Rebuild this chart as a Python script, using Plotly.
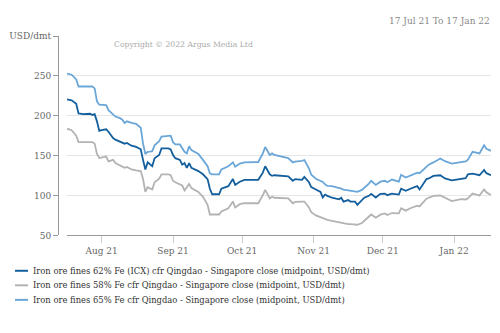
import plotly.graph_objects as go

W, H = 500, 333

dates = [
    "2021-07-17", "2021-07-19", "2021-07-21", "2021-07-22", "2021-07-24", "2021-07-27", "2021-07-28",
    "2021-07-29", "2021-07-30", "2021-07-31", "2021-08-01", "2021-08-03", "2021-08-04", "2021-08-06",
    "2021-08-07", "2021-08-09", "2021-08-10", "2021-08-11", "2021-08-12", "2021-08-14", "2021-08-16",
    "2021-08-18", "2021-08-19", "2021-08-20", "2021-08-21", "2021-08-22", "2021-08-23", "2021-08-24",
    "2021-08-26", "2021-08-27", "2021-08-30", "2021-08-31", "2021-09-01", "2021-09-02", "2021-09-04",
    "2021-09-05", "2021-09-06", "2021-09-07", "2021-09-08", "2021-09-09", "2021-09-12", "2021-09-14",
    "2021-09-16", "2021-09-17", "2021-09-18", "2021-09-21", "2021-09-22", "2021-09-25", "2021-09-26",
    "2021-09-27", "2021-09-28", "2021-09-30", "2021-10-02", "2021-10-08", "2021-10-10", "2021-10-11",
    "2021-10-13", "2021-10-14", "2021-10-15", "2021-10-21", "2021-10-23", "2021-10-24", "2021-10-27",
    "2021-10-28", "2021-10-30", "2021-10-31", "2021-11-02", "2021-11-04", "2021-11-05", "2021-11-06",
    "2021-11-07", "2021-11-09", "2021-11-12", "2021-11-13", "2021-11-14", "2021-11-16", "2021-11-17",
    "2021-11-19", "2021-11-20", "2021-11-22", "2021-11-23", "2021-11-25", "2021-11-26", "2021-11-28",
    "2021-11-30", "2021-12-02", "2021-12-03", "2021-12-05", "2021-12-08", "2021-12-09", "2021-12-11",
    "2021-12-13", "2021-12-16", "2021-12-17", "2021-12-20", "2021-12-21", "2021-12-23", "2021-12-26",
    "2021-12-28", "2021-12-31", "2022-01-04", "2022-01-06", "2022-01-07", "2022-01-09", "2022-01-12",
    "2022-01-14", "2022-01-15", "2022-01-17",
]

fe62 = [
    220.6, 219.4, 215, 203, 202, 202.5, 201,
    202, 193, 181, 182, 183, 180, 172,
    170, 167.7, 165.7, 165, 166, 162.5, 161,
    158, 144.7, 132.7, 141.5, 138.7, 136.7, 146.8,
    150.8, 159, 159, 157.7, 150.8, 146.8, 144.7,
    138.7, 140.7, 134.7, 140.7, 134.7, 130.6, 126.6,
    120.6, 108.5, 101.6, 101.6, 108.5, 111.7, 115.7,
    120.6, 113.3, 117.3, 119.7, 119.7, 128.7, 136.7,
    126.6, 124.6, 125.4, 124, 118.5, 120.6, 119.7,
    123.4, 116.6, 110.5, 107.6, 104.5, 97.6, 101.2,
    99.6, 97.2, 95.2, 97.2, 92.4, 94.3, 92.4,
    92.4, 88.3, 94.3, 97.2, 99.6, 102, 97.5,
    102, 102.4, 100.4, 102.4, 101.2, 108.5, 106,
    108.5, 111.7, 107.6, 120.6, 121.4, 124.6, 125.4,
    121.4, 119, 121.4, 121.8, 126.6, 127.5, 125.4,
    132, 128, 125.4,
]

fe58 = [
    183.8, 181.9, 175, 167, 167, 167, 167,
    165, 152, 147, 147.6, 148.8, 142.7, 144.7,
    140.7, 138, 136.7, 134.7, 135.9, 132.7, 131.4,
    130.6, 120.6, 104.5, 110.5, 108.5, 107.6, 116.6,
    121, 126.6, 126.6, 125.4, 118.5, 116.6, 114,
    112.5, 106.4, 110, 114.5, 109.3, 104.5, 98.4,
    88.3, 76.2, 76.2, 76.2, 80, 84, 88,
    92.4, 85.1, 89.1, 90.3, 90.3, 100.4, 107,
    96.4, 98.4, 97.2, 96.4, 90.3, 92, 92.4,
    92.4, 85, 79, 75, 72.5, 72, 70.5,
    69.5, 68.2, 66.5, 65, 64.5, 64.1, 64.1,
    63.5, 63.3, 65.5, 68.2, 73, 76.2, 72.2,
    76, 77.5, 75.5, 78, 77.5, 84, 81,
    84, 87.3, 86.3, 96, 97.2, 99.5, 100,
    97.5, 93, 95.4, 95, 96.5, 102.4, 100,
    107.6, 104, 100.5,
]

fe65 = [
    252.8, 251.5, 245.6, 236.7, 236.7, 236.7, 236.7,
    234.3, 218, 214, 214, 213.3, 207, 202,
    199, 197, 195, 191, 193, 191, 190,
    185, 165, 152, 154.8, 155, 155.6, 162.9,
    168, 174, 175, 175, 166.9, 164, 164,
    159, 154.8, 152.8, 161.7, 156.9, 152, 144.7,
    136.7, 127.8, 126.6, 126.6, 132.7, 136.7, 139,
    141.5, 136, 140, 141.5, 142, 152.8, 160.8,
    150.8, 152.8, 150.8, 147, 141.5, 142.5, 143.5,
    144.5, 134, 126, 121, 118, 117, 114,
    112, 111.7, 110, 108.5, 107.5, 106.4, 106,
    105, 104.5, 107, 109.3, 115, 118.5, 113.3,
    117.3, 118.5, 116.6, 120, 117.3, 126, 122.6,
    125.4, 128.7, 128, 136.7, 138.7, 141.5, 146.5,
    143, 140, 142, 142.7, 145, 154.8, 152.8,
    163, 158.5, 156,
]

series_names = [
    "Iron ore fines 62% Fe (ICX) cfr Qingdao - Singapore close (midpoint, USD/dmt)",
    "Iron ore fines 58% Fe cfr Qingdao - Singapore close (midpoint, USD/dmt)",
    "Iron ore fines 65% Fe cfr Qingdao - Singapore close (midpoint, USD/dmt)",
]
series_values = [fe62, fe58, fe65]
series_colors = ["#135f9e", "#b3b3b3", "#6aa7d8"]

y_tickvals = [50, 100, 150, 200, 250, 300]
y_ticktext = ["50", "100", "150", "200", "250", "USD/dmt"]

FONT = "DejaVu Serif"

fig = go.Figure()
# draw grey first, then light, then dark (dark on top)
for idx in [1, 2, 0]:
    fig.add_trace(go.Scatter(
        x=dates, y=series_values[idx], mode="lines", name=series_names[idx],
        line=dict(color=series_colors[idx], width=1.8), showlegend=False,
        hoverinfo="skip",
    ))


def px(x):
    return x / W


def py(y):
    return 1 - y / H


fig.update_layout(
    width=W, height=H,
    margin=dict(l=0, r=0, t=0, b=0),
    paper_bgcolor="white", plot_bgcolor="white",
    font=dict(family=FONT, size=9, color="#666"),
    xaxis=dict(
        domain=[px(67), px(491)],
        range=["2021-07-17", "2022-01-17"],
        type="date",
        tickformat="%b %y",
        dtick="M1",
        tick0="2021-08-01",
        showgrid=False,
        showline=True, linecolor="#999", linewidth=1,
        ticks="outside", ticklen=7, tickcolor="#ccc", tickwidth=1,
        tickfont=dict(family=FONT, size=9, color="#666"),
        zeroline=False,
        anchor="y",
    ),
    yaxis=dict(
        domain=[py(237.5), py(32)],
        range=[50, 300],
        tickvals=y_tickvals, ticktext=y_ticktext,
        showgrid=True, gridcolor="#e6e6e6", gridwidth=1,
        showline=True, linecolor="#999", linewidth=1,
        ticks="outside", ticklen=5, tickcolor="#999",
        tickfont=dict(family=FONT, size=9, color="#666"),
        zeroline=False,
        anchor="free", position=px(58),
    ),
)

annotations = [
    dict(text="17 Jul 21 To 17 Jan 22", x=px(492), y=py(16), xanchor="right", yanchor="middle",
         font=dict(family=FONT, size=9, color="#888")),
    dict(text="Copyright © 2022 Argus Media Ltd", x=px(112), y=py(41), xanchor="left", yanchor="middle",
         font=dict(family=FONT, size=7.7, color="#aaa")),
]
legend_y = [274, 289, 304]
shapes = []
for name, color, ly in zip(series_names, series_colors, legend_y):
    shapes.append(dict(type="line", xref="paper", yref="paper", x0=px(15), x1=px(28), y0=py(ly), y1=py(ly),
                       line=dict(color=color, width=2)))
    annotations.append(dict(text=name, x=px(31), y=py(ly), xanchor="left", yanchor="middle",
                            font=dict(family=FONT, size=8.4, color="#333")))

for a in annotations:
    a.update(xref="paper", yref="paper", showarrow=False)
fig.update_layout(annotations=annotations, shapes=shapes)

fig.write_html("out.html")
